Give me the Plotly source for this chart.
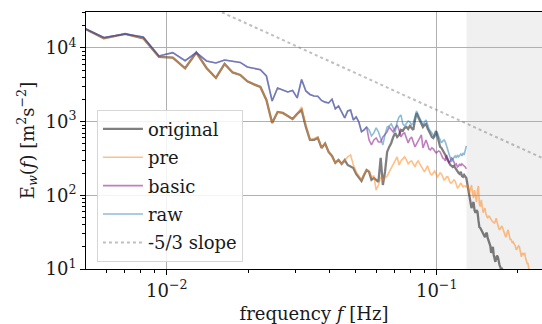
import plotly.graph_objects as go

# frequency grid (Hz): spectral bins k*df, k = 4 ... 190
df = 0.00117
k_start = 4
freq = [k * df for k in range(k_start, 191)]

original = [
    20400, 13500, 15480, 13500, 7550, 7400, 5300, 8640, 5355, 3918, 6067, 4650, 4303, 3520, 3200, 2957,
    1970, 960, 1354, 1312, 1195, 1088, 1272, 1441, 847, 565, 565, 601, 440, 505, 388, 342, 275, 302, 267,
    302, 258, 243, 235, 195, 172,
    157, 189, 221, 208, 162, 172, 162, 152, 322, 138, 208, 388, 454, 514, 620, 703, 620, 660, 772, 748,
    821, 847, 796, 874, 821, 772, 1055, 1312, 1158, 1055, 960, 847, 902, 931, 821, 725, 681, 620, 601, 660,
    748, 640, 530, 454, 440, 413, 388, 353, 322, 293, 275, 258, 251, 243, 251, 235, 221, 214, 201, 195,
    208, 183, 178, 189, 183, 172,
    143, 118, 98, 79, 67, 76, 81, 63, 58, 63, 60, 46, 37, 36, 34, 32, 30, 28, 27, 30, 31, 26.4, 24.1,
    22.6, 20.6, 16.5, 18.2, 20, 15.5, 12.9, 12.5, 14.2, 15.1, 14.6, 12.5, 11.4, 10.7, 9.7, 10.4, 9.1, 7.6, 6,
]

pre = [
    20400, 13500, 15480, 13500, 7550, 7400, 5300, 8640, 5355, 3918, 6067, 4650, 4303, 3520, 3200, 2957,
    1970, 960, 1354, 1312, 1195, 1088, 1272, 1583, 902, 565, 590, 620, 440, 505, 388, 342, 275, 302, 267,
    302, 332, 353, 258, 208, 183,
    162, 195, 221, 214, 178, 183, 118, 138, 178, 162, 172, 183, 208, 235, 275, 302, 332, 258, 293, 312,
    332, 302, 267, 284, 293, 267, 243, 275, 293, 267, 243, 221, 208, 228, 251, 221, 195, 189, 201, 214,
    195, 178, 189, 201, 195, 178, 162, 167, 178, 178, 162, 147, 147, 157, 162, 157, 138, 126, 130, 138,
    147, 138, 130, 134, 134, 130,
    138, 126, 108, 122, 138, 108, 92, 118, 98, 81, 118, 134, 76, 70, 87, 74, 58, 63, 67, 56, 51, 49, 52,
    52, 49, 46, 45, 43.5, 42, 42, 45, 49, 43.5, 38.4, 36, 34, 35, 37, 38.4, 36, 33, 30, 28, 27, 29, 32, 34,
    31, 27, 24.8, 25.6, 24, 22.6, 23.3, 22.6, 21.9, 20.6, 18.7, 18.2, 19.3, 20, 20.6, 20, 18.2, 15.5, 14.6,
    16, 16.5, 15.5, 16, 16.5, 14.6, 13.3, 12.5, 11.7, 12.1, 11, 10.1, 8.9, 7.6,
]

basic = [
    20400, 13900, 15480, 14090, 7790, 8640, 6720, 8640, 6663, 6260, 6875, 6560, 6360, 5525, 5300, 5060,
    4170, 1909, 2866, 2693, 2530, 2650, 2097, 3740, 2610, 2340, 2232, 2210, 1940, 1840, 1794, 2010, 1487,
    1633, 1354, 1122, 1397, 1441, 1055, 1158, 991, 730, 772, 847,
    565, 483, 565, 601, 530, 530, 620, 681, 725, 847, 772, 725, 821, 902, 772, 620, 681, 703, 601, 514,
    583, 620, 530, 454, 498, 547, 601, 660, 440, 498, 565, 498, 426, 413, 440, 426, 400, 376, 388, 400,
    388, 353, 322, 312, 293, 353, 302, 275, 293, 322, 312, 284, 258, 267, 243, 251, 267, 251, 267, 258,
    251, 243, 228,
]

raw = [
    20400, 13900, 15480, 14090, 7790, 8640, 6720, 8640, 6663, 6260, 6875, 6560, 6360, 5525, 5300, 5060,
    4170, 1909, 2866, 2693, 2530, 2650, 2097, 3740, 2610, 2340, 2232, 2210, 1940, 1840, 1794, 2010, 1487,
    1633, 1354, 1122, 1397, 1441, 1055, 1158, 991, 730, 772, 847,
    772, 640, 703, 821, 725, 601, 483, 660, 847, 874, 931, 821, 725, 991, 1158, 1232, 931, 874, 960, 1022,
    991, 902, 960, 1195, 1397, 1232, 1122, 1022, 902, 991, 1055, 931, 796, 748, 703, 640, 620, 681, 703,
    620, 565, 514, 547, 565, 530, 468, 413, 353, 312, 284, 312, 332, 342, 322, 353, 332, 353, 364, 342,
    376, 353, 400, 468,
]

# -5/3 reference slope
slope_coef = 31.0
slope_exp = -5.0 / 3.0
slope_f = [0.005, 0.3]
slope_E = [slope_coef * f ** slope_exp for f in slope_f]

shade_start = 0.129
shade_end = 0.3

x_range = [-2.299, -0.610]
y_range = [1.0, 4.488]
x_tickvals = [0.01, 0.1]
x_ticktext = ["10<sup>\u22122</sup>", "10<sup>\u22121</sup>"]
y_tickvals = [10, 100, 1000, 10000]
y_ticktext = ["10<sup>1</sup>", "10<sup>2</sup>", "10<sup>3</sup>", "10<sup>4</sup>"]
# minor tick positions (2..9 x decade)
x_minor = [d * 10.0 ** e for e in (-3, -2, -1) for d in range(2, 10)]
y_minor = [d * 10.0 ** e for e in (1, 2, 3, 4) for d in range(2, 10)]

FONT = "DejaVu Serif"

fig = go.Figure()

series = [
    ("original", original, "rgba(0,0,0,0.5)", 2.3),
    ("pre", pre, "rgba(255,127,14,0.5)", 1.6),
    ("basic", basic, "rgba(128,0,128,0.5)", 1.6),
    ("raw", raw, "rgba(31,119,180,0.5)", 1.6),
]
for i, (name, vals, col, w) in enumerate(series):
    fig.add_trace(go.Scatter(
        x=freq[:len(vals)], y=vals, mode="lines", name=name,
        line=dict(color=col, width=w), legendgroup=f"g{i}",
    ))

fig.add_trace(go.Scatter(
    x=slope_f, y=slope_E, mode="lines", name="-5/3 slope",
    line=dict(color="rgba(128,128,128,0.5)", width=2, dash="dot"), legendgroup="g9",
))

# carrier for the minor-tick overlay axes
fig.add_trace(go.Scatter(x=[], y=[], xaxis="x2", yaxis="y2", showlegend=False, hoverinfo="skip"))

fig.add_shape(type="rect", xref="x", yref="paper", x0=shade_start, x1=shade_end, y0=0, y1=1,
              fillcolor="#f0f0f0", line=dict(width=0), layer="below")

fig.update_layout(
    width=542, height=324,
    margin=dict(l=86, r=0, t=12, b=55, autoexpand=False),
    plot_bgcolor="white", paper_bgcolor="white",
    font=dict(family=FONT, size=18, color="#1a1a1a"),
    showlegend=True,
    legend=dict(
        x=0.024, y=0.62, xanchor="left", yanchor="top",
        bgcolor="rgba(255,255,255,0.85)", bordercolor="#d6d6d6", borderwidth=1,
        font=dict(family=FONT, size=18), tracegroupgap=2, traceorder="grouped",
        itemwidth=40, entrywidth=112, entrywidthmode="pixels",
    ),
    xaxis=dict(
        type="log", range=x_range, automargin=False,
        showline=True, linecolor="black", linewidth=1, mirror=True,
        ticks="outside", ticklen=5, tickcolor="black",
        tickmode="array", tickvals=x_tickvals, ticktext=x_ticktext,
        showgrid=True, gridcolor="#b0b0b0", gridwidth=1,
        title=dict(text="frequency <i>f</i> [Hz]", font=dict(size=18), standoff=10),
        zeroline=False,
    ),
    yaxis=dict(
        type="log", range=y_range, automargin=False,
        showline=True, linecolor="black", linewidth=1, mirror=False,
        ticks="outside", ticklen=5, tickcolor="black",
        tickmode="array", tickvals=y_tickvals, ticktext=y_ticktext,
        showgrid=True, gridcolor="#b0b0b0", gridwidth=1,
        title=dict(text="E<sub><i>w</i></sub>(<i>f</i>) [m<sup>2</sup>s<sup>\u22122</sup>]",
                   font=dict(size=18), standoff=6),
        zeroline=False,
    ),
    xaxis2=dict(type="log", range=x_range, overlaying="x", anchor="y", side="bottom",
                tickmode="array", tickvals=x_minor, showticklabels=False, ticks="outside",
                ticklen=3, tickcolor="black", showgrid=False, zeroline=False, automargin=False),
    yaxis2=dict(type="log", range=y_range, overlaying="y", anchor="x", side="left",
                tickmode="array", tickvals=y_minor, showticklabels=False, ticks="outside",
                ticklen=3, tickcolor="black", showgrid=False, zeroline=False, automargin=False),
)

fig.write_html("out.html", config={"displayModeBar": False},
               post_script="document.body.style.margin='0';")
